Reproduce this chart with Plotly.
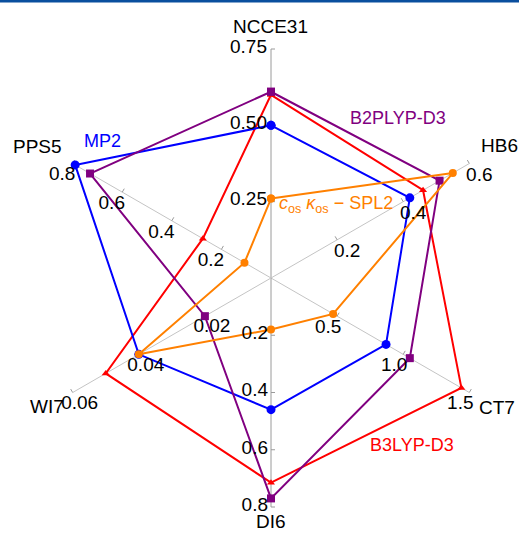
import math
import plotly.graph_objects as go

# ---------------- data ----------------
axis_names = ["NCCE31", "HB6", "CT7", "DI6", "WI7", "PPS5"]
axis_max = [0.75, 0.6, 1.5, 0.8, 0.06, 0.8]
axis_angles = [90, 30, -30, -90, -150, 150]

tick_vals = {
    "NCCE31": [0.25, 0.50, 0.75],
    "HB6": [0.2, 0.4, 0.6],
    "CT7": [0.5, 1.0, 1.5],
    "DI6": [0.2, 0.4, 0.6, 0.8],
    "WI7": [0.02, 0.04, 0.06],
    "PPS5": [0.2, 0.4, 0.6, 0.8],
}
tick_text = {
    "NCCE31": ["0.25", "0.50", "0.75"],
    "HB6": ["0.2", "0.4", "0.6"],
    "CT7": ["0.5", "1.0", "1.5"],
    "DI6": ["0.2", "0.4", "0.6", "0.8"],
    "WI7": ["0.02", "0.04", "0.06"],
    "PPS5": ["0.2", "0.4", "0.6", "0.8"],
}

mp2 = [0.50, 0.42, 0.87, 0.46, 0.040, 0.79]
b2plyp = [0.61, 0.51, 1.05, 0.77, 0.020, 0.73]
b3lyp = [0.60, 0.46, 1.44, 0.715, 0.050, 0.275]
spl2 = [0.26, 0.55, 0.47, 0.18, 0.040, 0.107]

series_names = ["B3LYP-D3", "MP2", "B2PLYP-D3", "<i>c</i><sub>os</sub> <i>κ</i><sub>os</sub> − SPL2"]
series_values = [b3lyp, mp2, b2plyp, spl2]

# ---------------- style ----------------
R_PX = 229.0           # pixel radius of the full-scale ring
CX, CY = 271.0, 278.0  # centre in pixels
W, H = 519, 533
FONT = "Liberation Sans, Arial, Helvetica, sans-serif"
series_colors = ["#ff0000", "#0000ff", "#800080", "#ff8000"]
series_symbols = ["triangle-up", "circle", "square", "circle"]
series_sizes = [7, 9, 8, 8]

# tick-label offsets (px, right / down) per axis
label_off = {
    "NCCE31": ("right", -4, -1),
    "HB6": ("c", 10, 12.5),
    "CT7": ("c", -9, 12),
    "DI6": ("right", -3, -1),
    "WI7": ("c", 7, 11.5),
    "PPS5": ("c", -10.5, 12),
}
# axis-name offsets from the end of each axis (px, right / down)
name_off = {
    "NCCE31": (-1, -23),
    "HB6": (30, -17.5),
    "CT7": (27.5, 14.5),
    "DI6": (0, 14.5),
    "WI7": (-25.5, 13.5),
    "PPS5": (-35, -17),
}
series_label_px = [(412, 445), (102.3, 141.2), (397.5, 118.3), (277, 205)]
series_label_anchor = ["center", "center", "center", "left"]


def to_polar(rn, ang, dx=0.0, dy=0.0):
    a = math.radians(ang)
    x = rn * math.cos(a) + dx / R_PX
    y = rn * math.sin(a) - dy / R_PX
    return math.hypot(x, y), math.degrees(math.atan2(y, x))


def text_width(s, size):
    return sum(0.278 if ch == "." else 0.556 for ch in s) * size


fig = go.Figure()

# spokes
for name, ang in zip(axis_names, axis_angles):
    col = "#9a9a9a" if ang in (90, -90) else "#c4c4c4"
    fig.add_trace(go.Scatterpolar(r=[0, 1], theta=[ang, ang], mode="lines",
                                  line=dict(color=col, width=1),
                                  hoverinfo="skip", showlegend=False))

# tick marks (perpendicular, on the side opposite to the labels)
for name, ang, mx in zip(axis_names, axis_angles, axis_max):
    a = math.radians(ang)
    px, py = -math.sin(a), -math.cos(a)
    side, ox, oy = label_off[name]
    if side == "right":
        ox = -10
    if px * ox + py * oy > 0:
        px, py = -px, -py
    rr, tt = [], []
    for v in tick_vals[name]:
        r0, t0 = to_polar(v / mx, ang)
        r1, t1 = to_polar(v / mx, ang, 4 * px, 4 * py)
        rr += [r0, r1, None]
        tt += [t0, t1, None]
    fig.add_trace(go.Scatterpolar(r=rr, theta=tt, mode="lines",
                                  line=dict(color="#9a9a9a", width=1),
                                  hoverinfo="skip", showlegend=False))

# data series
for nm, vals, col, sym, sz in zip(series_names, series_values, series_colors,
                                  series_symbols, series_sizes):
    rn = [v / m for v, m in zip(vals, axis_max)]
    fig.add_trace(go.Scatterpolar(r=rn + [rn[0]], theta=axis_angles + [axis_angles[0]],
                                  mode="lines+markers", name=nm,
                                  line=dict(color=col, width=2),
                                  marker=dict(color=col, symbol=sym, size=sz),
                                  hoverinfo="skip", showlegend=False))

# tick labels
for name, ang, mx in zip(axis_names, axis_angles, axis_max):
    side, ox, oy = label_off[name]
    rr, tt = [], []
    for v, s in zip(tick_vals[name], tick_text[name]):
        dx = ox - text_width(s, 19) / 2 if side == "right" else ox
        r1, t1 = to_polar(v / mx, ang, dx, oy)
        rr.append(r1)
        tt.append(t1)
    fig.add_trace(go.Scatterpolar(r=rr, theta=tt, mode="text", text=tick_text[name],
                                  textposition="middle center",
                                  textfont=dict(family=FONT, size=19, color="black"),
                                  cliponaxis=False, hoverinfo="skip", showlegend=False))

annotations = []
# axis names (placed relative to the end of each axis)
for name, ang in zip(axis_names, axis_angles):
    a = math.radians(ang)
    ex = CX + R_PX * math.cos(a) + name_off[name][0]
    ey = CY - R_PX * math.sin(a) + name_off[name][1]
    annotations.append(dict(x=ex / W, y=1 - ey / H, xref="paper", yref="paper",
                            text=name, showarrow=False, xanchor="center", yanchor="middle",
                            font=dict(family=FONT, size=19, color="black")))
# series labels
for nm, col, (lx, ly), anc in zip(series_names, series_colors, series_label_px, series_label_anchor):
    annotations.append(dict(x=lx / W, y=1 - ly / H, xref="paper", yref="paper",
                            text=nm, showarrow=False, xanchor=anc, yanchor="middle",
                            font=dict(family=FONT, size=18, color=col)))

half = 248.0
fig.update_layout(
    width=W, height=H,
    margin=dict(l=0, r=0, t=0, b=0),
    paper_bgcolor="white",
    polar=dict(
        domain=dict(x=[(CX - half) / W, (CX + half) / W],
                    y=[(H - CY - half) / H, (H - CY + half) / H]),
        bgcolor="rgba(0,0,0,0)",
        radialaxis=dict(visible=False, range=[0, half / R_PX]),
        angularaxis=dict(visible=False, direction="counterclockwise", rotation=0),
    ),
    annotations=annotations,
    shapes=[dict(type="rect", xref="paper", yref="paper", x0=0, x1=1,
                 y0=1 - 2.5 / H, y1=1, fillcolor="#0a4f9e", line=dict(width=0))],
)

fig.write_html("out.html", config={"displayModeBar": False},
               post_script="document.body.style.margin='0';")
